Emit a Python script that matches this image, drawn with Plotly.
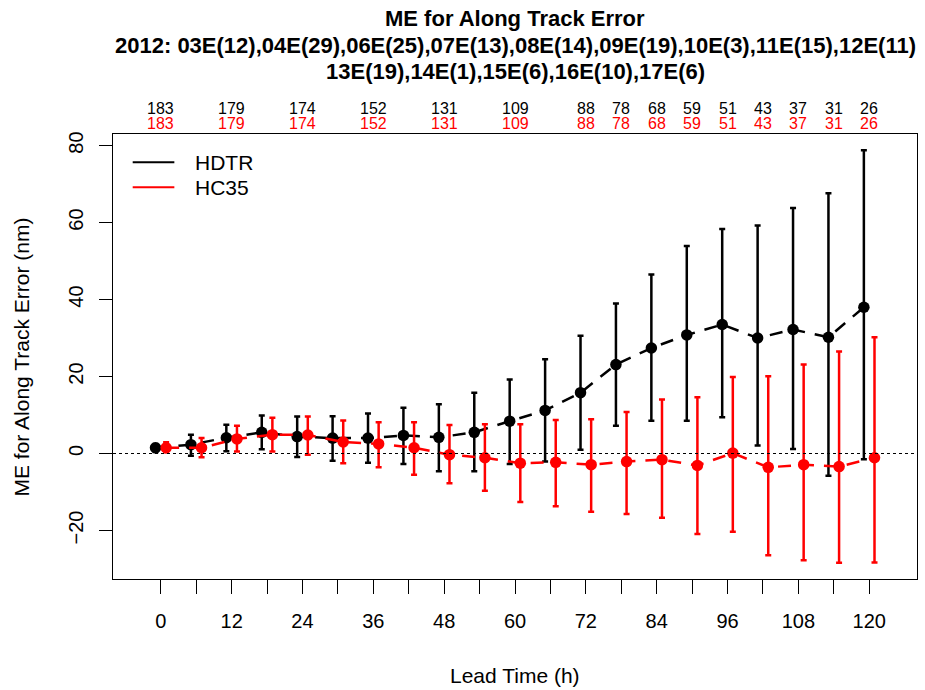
import plotly.graph_objects as go

lead = [0, 6, 12, 18, 24, 30, 36, 42, 48, 54, 60, 66, 72, 78, 84, 90, 96, 102, 108, 114, 120]

hdtr_me = [1.5, 2.3, 4.1, 5.5, 4.4, 4.0, 4.0, 4.7, 4.2, 5.5, 8.4, 11.2, 15.8, 23.1, 27.4, 30.8, 33.5, 30.0, 32.2, 30.2, 38.0]
hdtr_hi = [2.5, 4.9, 7.5, 9.9, 9.6, 9.7, 10.4, 11.9, 12.8, 15.8, 19.2, 24.5, 30.6, 39.0, 46.5, 53.9, 58.3, 59.2, 63.8, 67.6, 78.8]
hdtr_lo = [0.4, -0.6, 0.6, 1.1, -0.9, -1.9, -2.4, -2.7, -4.6, -4.6, -2.7, -2.1, 1.0, 7.2, 8.5, 8.5, 9.4, 2.1, 1.2, -5.8, -1.5]

hc35_me = [1.5, 1.5, 3.8, 4.9, 4.8, 3.0, 2.5, 1.5, -0.3, -1.1, -2.5, -2.3, -2.9, -2.1, -1.6, -3.1, 0.1, -3.6, -2.9, -3.4, -1.1]
hc35_hi = [2.9, 4.0, 7.2, 9.3, 9.6, 8.6, 8.1, 8.1, 7.4, 7.6, 7.6, 8.7, 8.9, 10.8, 14.0, 14.6, 19.9, 20.1, 23.1, 26.5, 30.2]
hc35_lo = [0.3, -1.0, 0.5, 0.5, -0.3, -2.5, -3.6, -5.5, -7.7, -9.7, -12.6, -13.7, -15.1, -15.7, -16.7, -20.9, -20.3, -26.4, -27.7, -28.4, -28.3]

count_lead = [0, 12, 24, 36, 48, 60, 72, 78, 84, 90, 96, 102, 108, 114, 120]
hdtr_n = [183, 179, 174, 152, 131, 109, 88, 78, 68, 59, 51, 43, 37, 31, 26]
hc35_n = [183, 179, 174, 152, 131, 109, 88, 78, 68, 59, 51, 43, 37, 31, 26]

x_ticks = lead
x_ticklabels = [str(v) if v % 12 == 0 else "" for v in lead]
y_ticks = [-20, 0, 20, 40, 60, 80]

title_lines = [
    "ME for Along Track Error",
    "2012: 03E(12),04E(29),06E(25),07E(13),08E(14),09E(19),10E(3),11E(15),12E(11)",
    "13E(19),14E(1),15E(6),16E(10),17E(6)",
]
series_names = ["HDTR", "HC35"]
colors = ["#000000", "#FF0000"]
offset = 0.9
FONT = "Liberation Sans, Arial, Helvetica, sans-serif"

fig = go.Figure()

# zero reference line
fig.add_shape(type="line", xref="paper", yref="y", x0=0, x1=1, y0=0, y1=0,
              line=dict(color="black", width=1, dash="dot"))

for name, me, hi, lo, col, sgn in [
    ("HDTR", hdtr_me, hdtr_hi, hdtr_lo, colors[0], -1),
    ("HC35", hc35_me, hc35_hi, hc35_lo, colors[1], 1),
]:
    xs = [t + sgn * offset for t in lead]
    fig.add_trace(go.Scatter(
        x=xs, y=me, mode="lines+markers", name=name,
        line=dict(color=col, width=2.5, dash="13px,10px"),
        marker=dict(color=col, size=11.5),
        error_y=dict(type="data", symmetric=False,
                     array=[h - m for h, m in zip(hi, me)],
                     arrayminus=[m - l for m, l in zip(me, lo)],
                     color=col, thickness=2.5, width=3),
        showlegend=False,
    ))

annotations = []
title_y = [1.2594, 1.1988, 1.1404]
for txt, yy in zip(title_lines, title_y):
    annotations.append(dict(text="<b>%s</b>" % txt, xref="paper", yref="paper", x=0.5, y=yy,
                            showarrow=False, xanchor="center", yanchor="middle",
                            font=dict(size=22, color="black", family=FONT)))

for xv, n in zip(count_lead, hdtr_n):
    annotations.append(dict(text=str(n), xref="x", yref="paper", x=xv, y=1.0573,
                            showarrow=False, xanchor="center", yanchor="middle",
                            font=dict(size=16, color=colors[0], family=FONT)))
for xv, n in zip(count_lead, hc35_n):
    annotations.append(dict(text=str(n), xref="x", yref="paper", x=xv, y=1.0236,
                            showarrow=False, xanchor="center", yanchor="middle",
                            font=dict(size=16, color=colors[1], family=FONT)))

# legend (manual)
for name, col, yy in zip(series_names, colors, [0.9367, 0.8805]):
    fig.add_shape(type="line", xref="paper", yref="paper", x0=0.0245, x1=0.0763, y0=yy, y1=yy,
                  line=dict(color=col, width=2))
    annotations.append(dict(text=name, xref="paper", yref="paper", x=0.1, y=yy,
                            showarrow=False, xanchor="left", yanchor="middle",
                            font=dict(size=21, color="black", family=FONT)))

# axis titles
annotations.append(dict(text="ME for Along Track Error (nm)", xref="paper", yref="paper",
                        x=-0.1132, y=0.5, textangle=-90, showarrow=False,
                        xanchor="center", yanchor="middle",
                        font=dict(size=21, color="black", family=FONT)))
annotations.append(dict(text="Lead Time (h)", xref="paper", yref="paper",
                        x=0.5, y=-0.2163, showarrow=False,
                        xanchor="center", yanchor="middle",
                        font=dict(size=21, color="black", family=FONT)))

fig.update_layout(
    width=925, height=690,
    margin=dict(l=113, r=8, t=134, b=111),
    paper_bgcolor="white", plot_bgcolor="white",
    font=dict(family=FONT, size=21, color="black"),
    annotations=annotations,
    showlegend=False,
)
fig.update_xaxes(range=[-8.1, 128.1], tickmode="array", tickvals=x_ticks, ticktext=x_ticklabels,
                 ticks="outside", ticklen=14, tickwidth=1, tickcolor="black",
                 showline=True, linecolor="black", linewidth=1, mirror=True,
                 showgrid=False, zeroline=False, tickfont=dict(size=20, family=FONT),
                 ticklabelstandoff=10)
fig.update_yaxes(range=[-32.6, 83.0], tickmode="array", tickvals=y_ticks,
                 ticks="outside", ticklen=13, tickwidth=1, tickcolor="black", tickangle=-90,
                 showline=True, linecolor="black", linewidth=1, mirror=True,
                 showgrid=False, zeroline=False, tickfont=dict(size=20, family=FONT),
                 ticklabelstandoff=8)

fig.write_html("out.html")
